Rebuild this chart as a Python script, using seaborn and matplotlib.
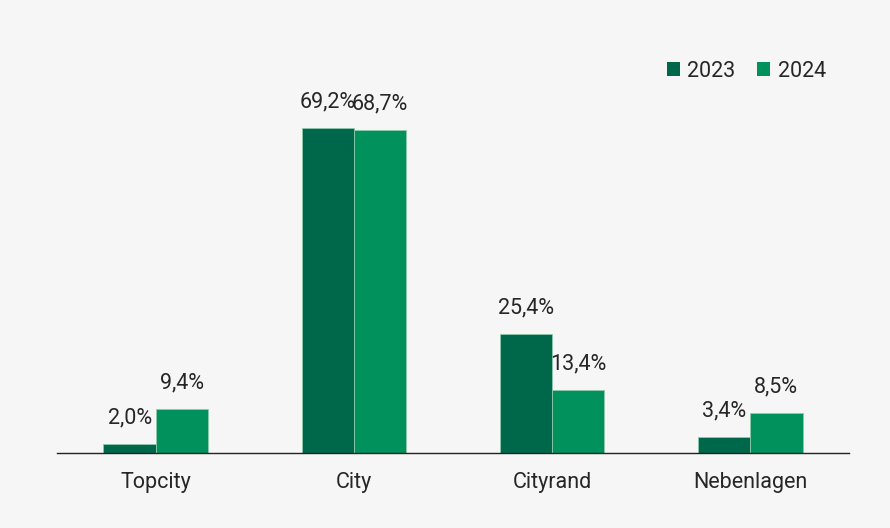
import matplotlib
matplotlib.use("Agg")
import matplotlib.pyplot as plt
import seaborn as sns
import pandas as pd

categories = ["Topcity", "City", "Cityrand", "Nebenlagen"]
years = ["2023", "2024"]
values_2023 = [2.0, 69.2, 25.4, 3.4]
values_2024 = [9.4, 68.7, 13.4, 8.5]

df = pd.DataFrame({
    "Lage": categories * 2,
    "Jahr": [years[0]] * 4 + [years[1]] * 4,
    "Wert": values_2023 + values_2024,
})

sns.set_theme(style="white")
plt.rcParams['font.family'] = ['Roboto', 'DejaVu Sans']

bg = "#f6f6f6"
colors = {"2023": "#00684a", "2024": "#00915c"}
txt = "#262626"
fs = 15.5

fig = plt.figure(figsize=(8.9, 5.28), dpi=100, facecolor=bg)
ax = fig.add_axes([0.064, 0.142, 0.890, 0.712], facecolor=bg)

sns.barplot(data=df, x="Lage", y="Wert", hue="Jahr", palette=colors,
            width=0.53, gap=0, ax=ax, saturation=1, linewidth=0.6,
            edgecolor="#8fc9ad")

for cont in ax.containers:
    labels = [f"{v:.1f}%".replace(".", ",") for v in cont.datavalues]
    ax.bar_label(cont, labels=labels, padding=11, fontsize=fs, color=txt)

ax.set_xlim(-0.5, 3.5)
ax.set_ylim(0, 80)
ax.set_xlabel("")
ax.set_ylabel("")
ax.set_yticks([])
ax.tick_params(axis="x", length=0, labelsize=fs, labelcolor=txt, pad=14)
for s in ["top", "right", "left"]:
    ax.spines[s].set_visible(False)
ax.spines["bottom"].set_color("#222222")
ax.spines["bottom"].set_linewidth(1.0)

leg = ax.legend(title=None, loc="upper right", bbox_to_anchor=(0.995, 1.095),
                ncol=2, frameon=False, fontsize=fs, handlelength=0.6,
                handleheight=0.6, handletextpad=0.35, columnspacing=1.0)
for t in leg.get_texts():
    t.set_color(txt)
for h in leg.legend_handles:
    h.set_edgecolor("none")

fig.savefig("out.png", dpi=100, facecolor=bg)
